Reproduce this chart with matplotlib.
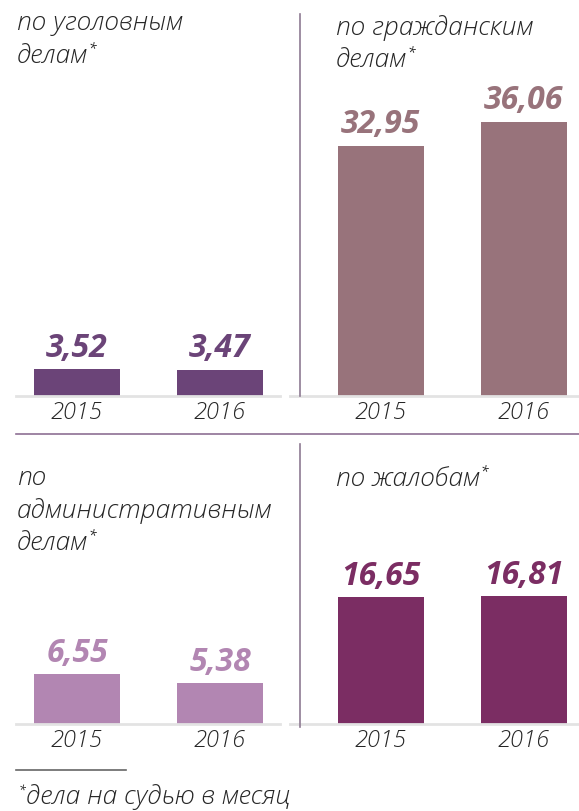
import matplotlib
matplotlib.use("Agg")
import matplotlib.pyplot as plt
from matplotlib.lines import Line2D

plt.rcParams['font.family'] = ['Open Sans', 'DejaVu Sans']

W, H = 579, 812

years = ["2015", "2016"]
criminal = [3.52, 3.47]
civil = [32.95, 36.06]
admin = [6.55, 5.38]
complaints = [16.65, 16.81]

labels_criminal = ["3,52", "3,47"]
labels_civil = ["32,95", "36,06"]
labels_admin = ["6,55", "5,38"]
labels_complaints = ["16,65", "16,81"]

colors = ["#6b4478", "#98737b", "#b286b2", "#7b2d63"]

fig = plt.figure(figsize=(W / 100, H / 100), dpi=100)


def px_axes(x0, y_top, x1, y_base):
    # axes from pixel box (origin top-left)
    return fig.add_axes([x0 / W, 1 - y_base / H, (x1 - x0) / W, (y_base - y_top) / H])


def panel(ax, vals, labels, color, xlim, ylim):
    ax.bar(range(len(vals)), vals, width=0.6, color=color)
    ax.set_xlim(*xlim)
    ax.set_ylim(*ylim)
    for s in ["top", "left", "right"]:
        ax.spines[s].set_visible(False)
    ax.spines["bottom"].set_color("#e3e3e3")
    ax.spines["bottom"].set_linewidth(2)
    ax.set_yticks([])
    ax.set_xticks(range(len(vals)))
    ax.set_xticklabels(years, fontsize=17, style="italic", fontweight="light",
                       color="#262626")
    ax.tick_params(axis="x", length=0, pad=3)
    for i, (v, t) in enumerate(zip(vals, labels)):
        ax.annotate(t, (i, v), xytext=(0, 4), textcoords="offset points",
                    ha="center", va="bottom", fontsize=23, fontweight="bold",
                    style="italic", color=color)


scale = 7.6
ax1 = px_axes(16, 15, 280, 397)
panel(ax1, criminal, labels_criminal, colors[0], (-0.427, 1.42), (0, 382 / scale))
ax2 = px_axes(290, 15, 579, 397)
panel(ax2, civil, labels_civil, colors[1], (-0.636, 1.385), (0, 382 / scale))
ax3 = px_axes(16, 445, 280, 725)
panel(ax3, admin, labels_admin, colors[2], (-0.427, 1.42), (0, 280 / scale))
ax4 = px_axes(290, 445, 579, 725)
panel(ax4, complaints, labels_complaints, colors[3], (-0.636, 1.385), (0, 280 / scale))

# separators
def fline(x0, y0, x1, y1, color, lw):
    fig.add_artist(Line2D([x0 / W, x1 / W], [1 - y0 / H, 1 - y1 / H],
                          color=color, lw=lw, transform=fig.transFigure))

fline(300, 15, 300, 397, "#8e7a92", 1.2)
fline(300, 445, 300, 728, "#8e7a92", 1.2)
fline(16, 435, 579, 435, "#8e6f94", 1.2)
fline(16, 771, 126, 771, "#666666", 1.2)

title_kw = dict(fontsize=19, style="italic", fontweight="light", color="#262626",
                va="center", ha="left")


def title(x, y, s, star=False):
    t = fig.text(x / W, 1 - y / H, s, **title_kw)
    if star:
        fig.canvas.draw()
        bb = t.get_window_extent()
        fig.text((bb.x1 + 1) / W, (bb.y1 + 1) / H, "*", fontsize=10,
                 style="italic", color="#262626", va="top", ha="left")


title(17, 23, "по уголовным")
title(17, 56, "делам", star=True)
title(336, 28, "по гражданским")
title(336, 60, "делам", star=True)
title(17, 479, "по")
title(17, 511, "административным")
title(17, 543, "делам", star=True)
title(336, 479, "по жалобам", star=True)

# footnote
fig.text(19 / W, 1 - 784 / H, "*", fontsize=9, style="italic", color="#262626",
         va="top", ha="left")
fig.text(26 / W, 1 - 797 / H, "дела на судью в месяц", fontsize=19,
         style="italic", fontweight="light", color="#262626", va="center", ha="left")

fig.savefig("out.png", dpi=100)
